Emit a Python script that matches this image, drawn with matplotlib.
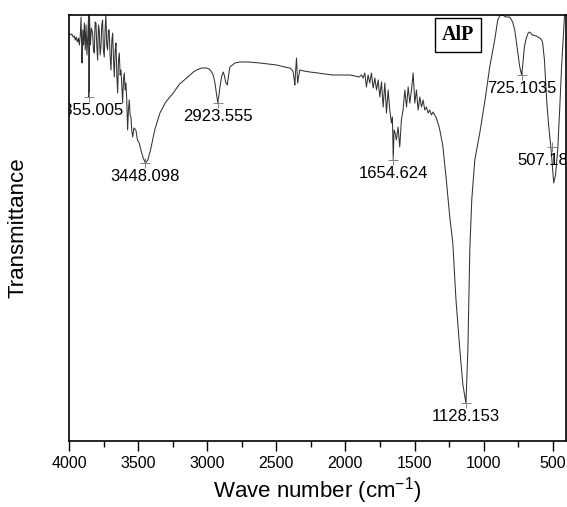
import matplotlib
matplotlib.use('Agg')
import matplotlib.pyplot as plt
import numpy as np

plt.rcParams['font.family'] = ['Liberation Sans', 'DejaVu Sans']
plt.rcParams['mathtext.default'] = 'regular'

# FTIR spectrum of AlP, wavenumber (cm-1) vs transmittance (a.u.)
wavenumber = [4000, 3990, 3980, 3970, 3962, 3955, 3948, 3940, 3932, 3925, 3918, 3913, 3909, 3906,
              3900, 3895, 3889, 3883, 3877, 3870, 3862, 3857, 3855, 3852, 3845, 3838, 3829, 3823,
              3817, 3811, 3805, 3799, 3793, 3787, 3781, 3775, 3769, 3763, 3757, 3751, 3745, 3739,
              3733, 3727, 3721, 3715, 3709, 3703, 3696, 3690, 3684, 3678, 3672, 3666, 3660, 3654,
              3648, 3642, 3636, 3630, 3624, 3618, 3612, 3606, 3600, 3594, 3588, 3582, 3576, 3570,
              3564, 3558, 3552, 3546, 3539, 3530, 3516, 3505, 3492, 3480, 3465, 3448, 3430, 3410,
              3380, 3342, 3300, 3246, 3200, 3149, 3100, 3077, 3040, 3004, 2985, 2968, 2955, 2944,
              2935, 2923, 2915, 2908, 2895, 2884, 2875, 2867, 2855, 2848, 2836, 2800, 2764, 2700,
              2619, 2560, 2498, 2440, 2402, 2385, 2378, 2370, 2366, 2360, 2354, 2350, 2346, 2340,
              2330, 2300, 2257, 2200, 2150, 2089, 2030, 1968, 1930, 1900,
              1884, 1872, 1860, 1848, 1836, 1824, 1812, 1799, 1787, 1775, 1763, 1751, 1739, 1727,
              1715, 1703, 1691, 1679, 1667, 1660, 1654, 1648, 1640, 1631, 1619, 1607, 1595, 1583,
              1570, 1558, 1546, 1534, 1522, 1510, 1498, 1486, 1474, 1462, 1450, 1438, 1426, 1414,
              1402, 1390, 1378, 1366, 1354, 1342, 1320, 1296, 1270, 1245, 1223, 1200, 1172, 1150,
              1128, 1114, 1100, 1086, 1064, 1028, 990, 956, 920, 898, 880, 862, 840, 811, 790, 775,
              760, 750, 740, 725, 715, 705, 695, 688, 678, 667, 655, 645, 620, 594, 580, 573, 560,
              544, 530, 515, 507, 493, 480, 464, 450, 436, 425, 414, 405]
transmittance = [408, 406, 407, 404, 405, 401, 404, 399, 403, 396, 406, 424, 401, 378,
                 411, 396, 418, 391, 416, 386, 411, 429, 344, 426, 396, 413, 408, 391,
                 388, 419, 418, 396, 381, 416, 411, 386, 394, 416, 421, 391, 384, 411,
                 426, 396, 391, 411, 411, 386, 371, 401, 408, 381, 364, 391, 398, 366,
                 348, 381, 388, 366, 371, 356, 338, 361, 368, 351, 358, 341, 311, 331,
                 341, 326, 324, 311, 304, 313, 311, 301, 298, 291, 284, 278, 281, 291,
                 311, 328, 339, 348, 357, 363, 369, 371, 373, 373, 372, 369, 365, 358,
                 349, 338, 346, 354, 365, 369, 365, 359, 356, 363, 374, 378, 379, 379,
                 378, 377, 376, 374, 373, 371, 369, 361, 356, 371, 383, 371, 358, 363,
                 371, 370, 369, 368, 367, 366, 366, 366, 365, 364,
                 366, 363, 368, 354, 366, 358, 368, 353, 363, 351, 361, 344, 359, 334,
                 358, 328, 351, 331, 318, 324, 281, 311, 308, 301, 314, 294, 321, 331,
                 351, 334, 354, 338, 351, 368, 338, 351, 331, 344, 334, 341, 331, 334,
                 328, 331, 326, 329, 326, 323, 313, 296, 261, 224, 198, 141, 91, 56,
                 38, 91, 191, 241, 281, 308, 341, 374, 401, 421, 426, 426, 424, 424, 419, 411,
                 396, 386, 375, 366, 379, 394, 401, 404, 408, 409, 407, 406, 405, 403, 401, 398, 381,
                 341, 316, 296, 283, 258, 266, 291, 331, 374, 401, 428, 441]

peak_wn = [3855.005, 3448.098, 2923.555, 1654.624, 1128.153, 725.1035, 507.18]
peak_T = [344, 278, 338, 281, 38, 366, 294]
peak_labels = ['3855.005', '3448.098', '2923.555', '1654.624', '1128.153', '725.1035', '507.18']
label_dx = [0, 0, 0, 0, 0, 0, -6.5]

fig = plt.figure(figsize=(5.67, 5.07), dpi=100)
ax = fig.add_axes([0.1217, 0.1302, 0.8763, 0.8402])

ax.plot(wavenumber, transmittance, color='#333333', lw=0.75)
ax.plot(peak_wn, peak_T, ls='none', marker='+', ms=7, mew=0.7, color='#808080')
for wn, t, lab, dx in zip(peak_wn, peak_T, peak_labels, label_dx):
    ax.annotate(lab, (wn, t), xytext=(dx, -10), textcoords='offset points',
                ha='center', va='center', fontsize=12, clip_on=True)

ax.text(458 / 567, 1 - 35 / 507, 'AlP', transform=fig.transFigure, ha='center', va='center',
        fontsize=14.5, fontweight='bold', family='Liberation Serif',
        bbox=dict(boxstyle='square,pad=0.35', fc='white', ec='black', lw=1.0))

ax.set_xlim(4000, 405)
ax.set_ylim(0, 426)
ax.set_xticks([4000, 3500, 3000, 2500, 2000, 1500, 1000, 500])
ax.set_xticks(np.arange(3750, 400, -500), minor=True)
ax.set_yticks([])
ax.tick_params(axis='x', which='major', direction='out', length=7, width=1, labelsize=11.5, pad=4)
ax.tick_params(axis='x', which='minor', direction='out', length=4, width=1)
for s in ax.spines.values():
    s.set_linewidth(1.2)

ax.set_xlabel('Wave number (cm$^{-1}$)', fontsize=16, labelpad=3)
ax.set_ylabel('Transmittance', fontsize=16, labelpad=29)

plt.savefig('out.png', dpi=100)
